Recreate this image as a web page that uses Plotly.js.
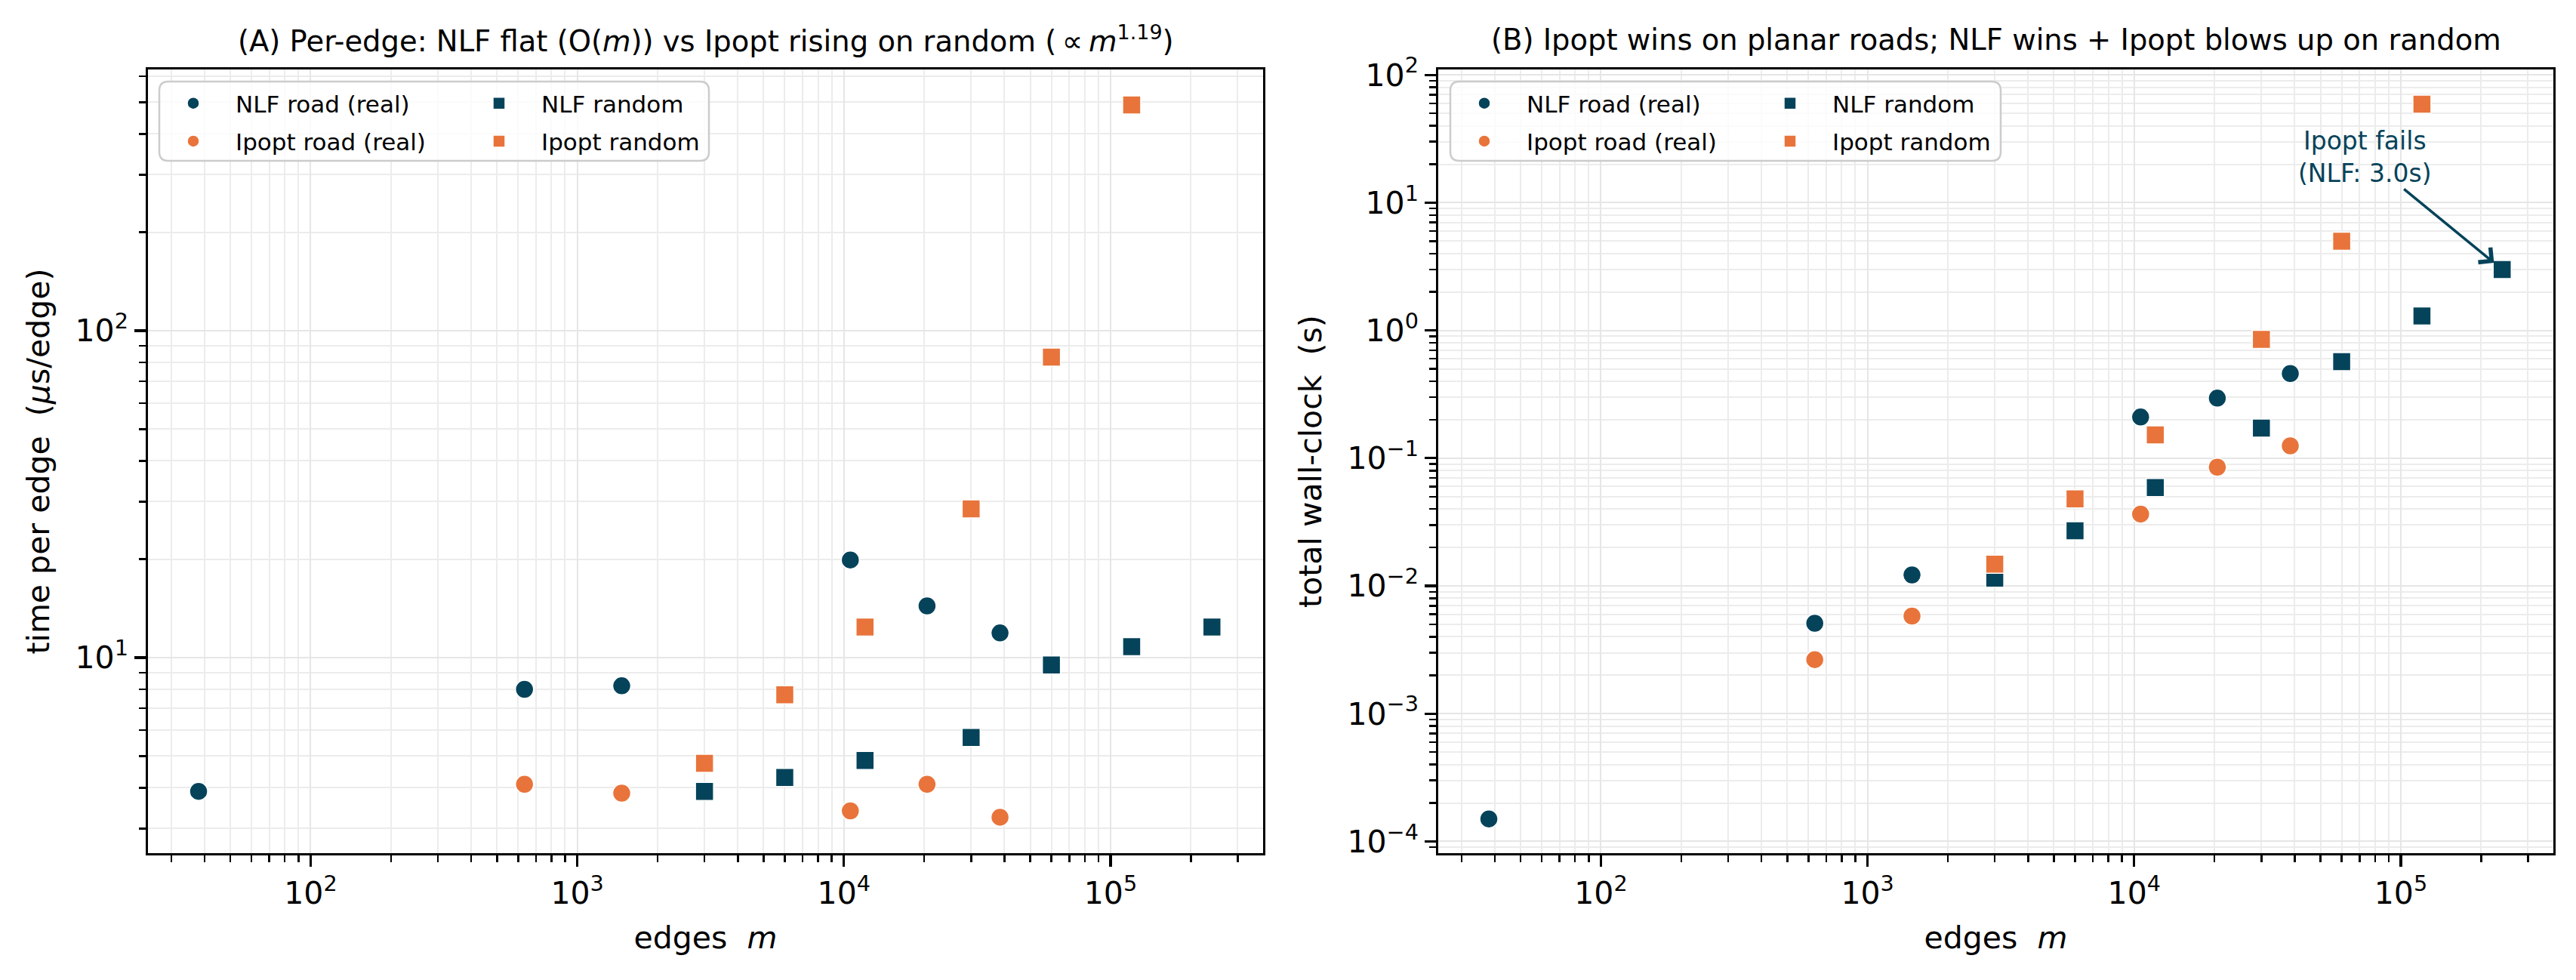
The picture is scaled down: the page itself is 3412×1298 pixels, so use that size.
<!DOCTYPE html>
<html>
<head>
<meta charset="utf-8">
<script src="https://cdn.plot.ly/plotly-3.0.1.min.js"></script>
<style>html,body{margin:0;padding:0;background:#fff;}</style>
</head>
<body>
<div id="chart" style="width:3412px;height:1298px;"></div>
<script>
// ---- edge counts m ----
const roadEdges        = [38, 634, 1468, 10570, 20500, 38500];
const ipoptRoadEdges   = [634, 1468, 10570, 20500, 38500];
const randomEdges      = [3000, 6000, 12000, 30000, 60000, 120000, 240000];
const ipoptRandomEdges = [3000, 6000, 12000, 30000, 60000, 120000];

// ---- (A) time per edge, µs/edge ----
const nlfRoadPerEdge     = [3.9, 8.0, 8.2, 19.9, 14.4, 11.9];
const ipoptRoadPerEdge   = [4.1, 3.85, 3.4, 4.1, 3.25];
const nlfRandomPerEdge   = [3.9, 4.3, 4.85, 5.7, 9.5, 10.8, 12.4];
const ipoptRandomPerEdge = [4.75, 7.7, 12.4, 28.5, 83, 490];

// ---- (B) total wall-clock, s ----
const nlfRoadTotal     = [1.5e-4, 5.1e-3, 0.0122, 0.21, 0.295, 0.46];
const ipoptRoadTotal   = [2.65e-3, 5.8e-3, 0.0365, 0.085, 0.125];
const nlfRandomTotal   = [0.0115, 0.027, 0.059, 0.172, 0.57, 1.3, 3.0];
const ipoptRandomTotal = [0.0148, 0.048, 0.152, 0.85, 5.0, 59];

// ---- series labels ----
const seriesNames = ["NLF road (real)", "Ipopt road (real)", "NLF random", "Ipopt random"];

// ---- tick labels ----
const xTickVals  = [1e2, 1e3, 1e4, 1e5];
const xTickText  = ["10<sup>2</sup>", "10<sup>3</sup>", "10<sup>4</sup>", "10<sup>5</sup>"];
const yATickVals = [1e1, 1e2];
const yATickText = ["10<sup>1</sup>", "10<sup>2</sup>"];
const yBTickVals = [1e-4, 1e-3, 1e-2, 1e-1, 1e0, 1e1, 1e2];
const yBTickText = ["10<sup>\u22124</sup>", "10<sup>\u22123</sup>", "10<sup>\u22122</sup>",
                    "10<sup>\u22121</sup>", "10<sup>0</sup>", "10<sup>1</sup>", "10<sup>2</sup>"];

// ---- styling ----
const NAVY = "#05435a";
const ORANGE = "#e8743b";
const FONT = "DejaVu Sans";
const W = 3412, H = 1298;
const M = {l: 196, r: 30, t: 92, b: 168};
const PW = W - M.l - M.r, PH = H - M.t - M.b;
const px2x = p => (p - M.l) / PW;          // page px -> paper x
const py2y = p => (H - M.b - p) / PH;      // page px -> paper y

// minor ticks at 2..9 of every decade
function minorVals(lo, hi) {
  const out = [];
  for (let e = lo; e <= hi; e++) for (let d = 2; d <= 9; d++) out.push(d * Math.pow(10, e));
  return out;
}

function axis(extra) {
  return Object.assign({
    type: "log", showline: true, linecolor: "#000", linewidth: 3.3, mirror: true,
    ticks: "outside", ticklen: 14.6, tickwidth: 3.3, tickcolor: "#000",
    showgrid: true, gridcolor: "#e6e6e6", gridwidth: 2, zeroline: false,
    tickfont: {family: FONT, size: 41, color: "#000"},
    tickmode: "array"
  }, extra);
}
function minor(vals) {
  return {tickmode: "array", tickvals: vals, ticks: "outside", ticklen: 8.3, tickwidth: 2.5,
          tickcolor: "#000", showgrid: true, gridcolor: "#ececec", gridwidth: 2};
}

function pts(x, y, name, color, symbol, xa, ya, leg, grp) {
  return {
    type: "scatter", mode: "markers", x: x, y: y, name: name,
    xaxis: xa, yaxis: ya, legend: leg, legendgroup: grp,
    marker: {color: color, symbol: symbol, size: 24, line: {color: "#fff", width: 1.5}},
    cliponaxis: false
  };
}

const data = [
  // panel A
  pts(roadEdges, nlfRoadPerEdge, seriesNames[0], NAVY, "circle", "x", "y", "legend", "a1"),
  pts(ipoptRoadEdges, ipoptRoadPerEdge, seriesNames[1], ORANGE, "circle", "x", "y", "legend", "a2"),
  pts(randomEdges, nlfRandomPerEdge, seriesNames[2], NAVY, "square", "x", "y", "legend2", "a3"),
  pts(ipoptRandomEdges, ipoptRandomPerEdge, seriesNames[3], ORANGE, "square", "x", "y", "legend2", "a4"),
  // panel B
  pts(roadEdges, nlfRoadTotal, seriesNames[0], NAVY, "circle", "x2", "y2", "legend3", "b1"),
  pts(ipoptRoadEdges, ipoptRoadTotal, seriesNames[1], ORANGE, "circle", "x2", "y2", "legend3", "b2"),
  pts(randomEdges, nlfRandomTotal, seriesNames[2], NAVY, "square", "x2", "y2", "legend4", "b3"),
  pts(ipoptRandomEdges, ipoptRandomTotal, seriesNames[3], ORANGE, "square", "x2", "y2", "legend4", "b4")
];

function legendAt(xPx, yPx) {
  return {
    x: px2x(xPx), y: py2y(yPx), xanchor: "left", yanchor: "top",
    bgcolor: "rgba(0,0,0,0)", borderwidth: 0, itemwidth: 102,
    traceorder: "grouped", tracegroupgap: 7,
    font: {family: FONT, size: 31, color: "#000"}
  };
}

function roundRect(x0, y0, x1, y1, r) {
  const X = p => px2x(p).toFixed(6), Y = p => py2y(p).toFixed(6);
  return "M" + X(x0 + r) + "," + Y(y0) + " L" + X(x1 - r) + "," + Y(y0) +
         " Q" + X(x1) + "," + Y(y0) + " " + X(x1) + "," + Y(y0 + r) +
         " L" + X(x1) + "," + Y(y1 - r) +
         " Q" + X(x1) + "," + Y(y1) + " " + X(x1 - r) + "," + Y(y1) +
         " L" + X(x0 + r) + "," + Y(y1) +
         " Q" + X(x0) + "," + Y(y1) + " " + X(x0) + "," + Y(y1 - r) +
         " L" + X(x0) + "," + Y(y0 + r) +
         " Q" + X(x0) + "," + Y(y0) + " " + X(x0 + r) + "," + Y(y0) + " Z";
}
function legendFrame(x0, x1) {
  return {type: "path", xref: "paper", yref: "paper", layer: "above",
          path: roundRect(x0, 108, x1, 213, 12),
          fillcolor: "rgba(255,255,255,0.8)", line: {color: "#cccccc", width: 2.5}};
}

const xRange = [1.39, 5.572];
const lastR = randomEdges.length - 1;

const layout = {
  width: W, height: H, autosize: false,
  margin: M, paper_bgcolor: "#fff", plot_bgcolor: "#fff",
  font: {family: FONT, color: "#000"},
  showlegend: true,
  xaxis: axis({domain: [0, px2x(1673)], range: xRange, anchor: "y",
    tickvals: xTickVals, ticktext: xTickText, minor: minor(minorVals(1, 5)),
    title: {text: "edges\u00a0 <i>m</i>", font: {family: FONT, size: 41}, standoff: 22}}),
  yaxis: axis({domain: [0, 1], range: [0.402, 2.799], anchor: "x",
    tickvals: yATickVals, ticktext: yATickText, minor: minor(minorVals(0, 2)),
    title: {text: "time per edge\u00a0 (<i>\u03bc</i>s/edge)", font: {family: FONT, size: 41}, standoff: 22}}),
  xaxis2: axis({domain: [px2x(1905), 1], range: xRange, anchor: "y2",
    tickvals: xTickVals, ticktext: xTickText, minor: minor(minorVals(1, 5)),
    title: {text: "edges\u00a0 <i>m</i>", font: {family: FONT, size: 41}, standoff: 22}}),
  yaxis2: axis({domain: [0, 1], range: [-4.092, 2.043], anchor: "x2",
    tickvals: yBTickVals, ticktext: yBTickText, minor: minor(minorVals(-5, 2)),
    title: {text: "total wall-clock\u00a0 (s)", font: {family: FONT, size: 41}, standoff: 22}}),
  legend:  legendAt(200, 110),
  legend2: legendAt(605, 110),
  legend3: legendAt(1910, 110),
  legend4: legendAt(2315, 110),
  shapes: [legendFrame(211, 939), legendFrame(1921, 2650)],
  annotations: [
    {xref: "paper", yref: "paper", x: px2x((196 + 1673) / 2), y: py2y(52),
     xanchor: "center", yanchor: "middle", showarrow: false,
     text: "(A) Per-edge: NLF flat (O(<i>m</i>)) vs Ipopt rising on random (\u2009\u221d\u2009<i>m</i><sup>1.19</sup>)",
     font: {family: FONT, size: 38.5, color: "#000"}},
    {xref: "paper", yref: "paper", x: px2x((1905 + 3382) / 2), y: py2y(52),
     xanchor: "center", yanchor: "middle", showarrow: false,
     text: "(B) Ipopt wins on planar roads; NLF wins + Ipopt blows up on random",
     font: {family: FONT, size: 38.5, color: "#000"}},
    {xref: "x2", yref: "y2",
     x: Math.log10(randomEdges[lastR]), y: Math.log10(nlfRandomTotal[lastR]),
     text: "Ipopt fails<br>(NLF: 3.0s)", showarrow: true,
     ax: -182, ay: -149, arrowhead: 4, arrowsize: 1.4, arrowwidth: 3.5,
     arrowcolor: NAVY, standoff: 14,
     font: {family: FONT, size: 33, color: NAVY}}
  ]
};

Plotly.newPlot("chart", data, layout, {staticPlot: true, displayModeBar: false});
</script>
</body>
</html>
